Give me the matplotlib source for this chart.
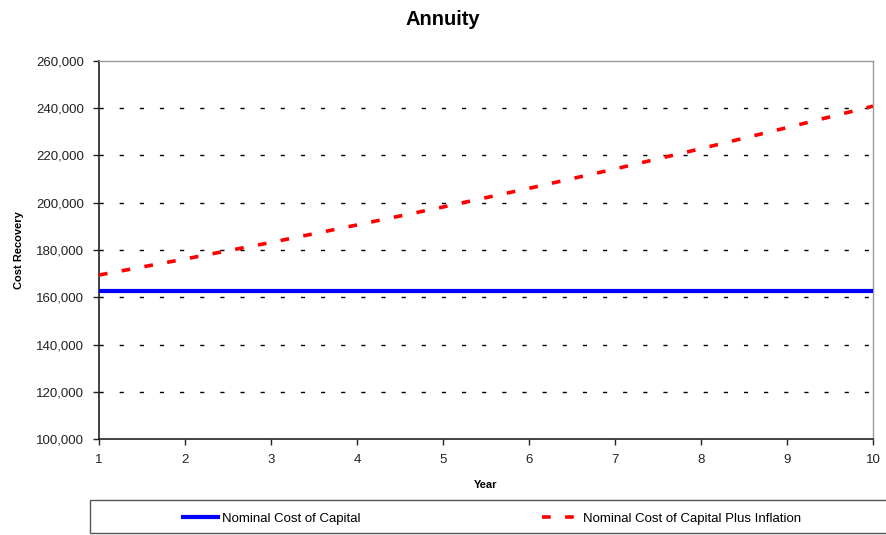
import matplotlib.pyplot as plt
from matplotlib.patches import Rectangle

plt.rcParams['font.family'] = ['Liberation Sans', 'DejaVu Sans']

# annual cost recovery figures
years = [1, 2, 3, 4, 5, 6, 7, 8, 9, 10]
nominal_cost = [162700, 162700, 162700, 162700, 162700,
                162700, 162700, 162700, 162700, 162700]
nominal_plus_inflation = [169400, 176200, 183200, 190600, 198200,
                          206100, 214300, 222900, 231800, 240900]
y_ticks = [100000, 120000, 140000, 160000, 180000, 200000, 220000, 240000, 260000]

fig = plt.figure(figsize=(8.86, 5.35), dpi=100)
ax = fig.add_axes([0.1117, 0.1794, 0.8736, 0.7066])

line_nom, = ax.plot(years, nominal_cost, color='#0000ff', lw=3,
                    solid_capstyle='butt', zorder=3)
line_inf, = ax.plot(years, nominal_plus_inflation, color='#ff0000', lw=2.6,
                    linestyle=(0, (2.4, 4.0)), zorder=3)

ax.set_xlim(1, 10)
ax.set_ylim(100000, 260000)
ax.set_xticks(years)
ax.set_yticks(y_ticks)
ax.set_yticklabels(['{:,}'.format(v) for v in y_ticks])

# dashed horizontal gridlines between the axis limits
for v in y_ticks[1:-1]:
    ax.axhline(v, color='black', lw=1, linestyle=(0, (3, 11.5)), zorder=1)

for side in ['left', 'bottom']:
    ax.spines[side].set_color('#222222')
    ax.spines[side].set_linewidth(1.2)
for side in ['top', 'right']:
    ax.spines[side].set_color('#999999')
    ax.spines[side].set_linewidth(1.0)

ax.tick_params(axis='y', direction='out', length=4, width=1, pad=7,
               labelsize=9.5, colors='#222222')
ax.tick_params(axis='x', direction='out', length=4, width=1, pad=7,
               labelsize=9.5, colors='#222222')

ax.set_xlabel('Year', fontsize=8, fontweight='bold', labelpad=10)
ax.set_ylabel('Cost Recovery', fontsize=8, fontweight='bold', labelpad=0)
ax.yaxis.set_label_coords(-0.097, 0.5)
fig.suptitle('Annuity', fontsize=14.5, fontweight='bold', y=0.982)

# legend strip along the bottom
fig.add_artist(Rectangle((0.1016, 0.004), 0.92, 0.0614, transform=fig.transFigure,
                         facecolor='white', edgecolor='#555555', lw=1, clip_on=False))
fig.legend([line_nom, line_inf],
           ['Nominal Cost of Capital', 'Nominal Cost of Capital Plus Inflation'],
           loc='center left', bbox_to_anchor=(0.204, 0.030), ncol=2,
           frameon=False, fontsize=9.5, handlelength=3.0, handletextpad=0.15,
           columnspacing=13.7, borderaxespad=0, borderpad=0)

fig.savefig('out.png', dpi=100)
